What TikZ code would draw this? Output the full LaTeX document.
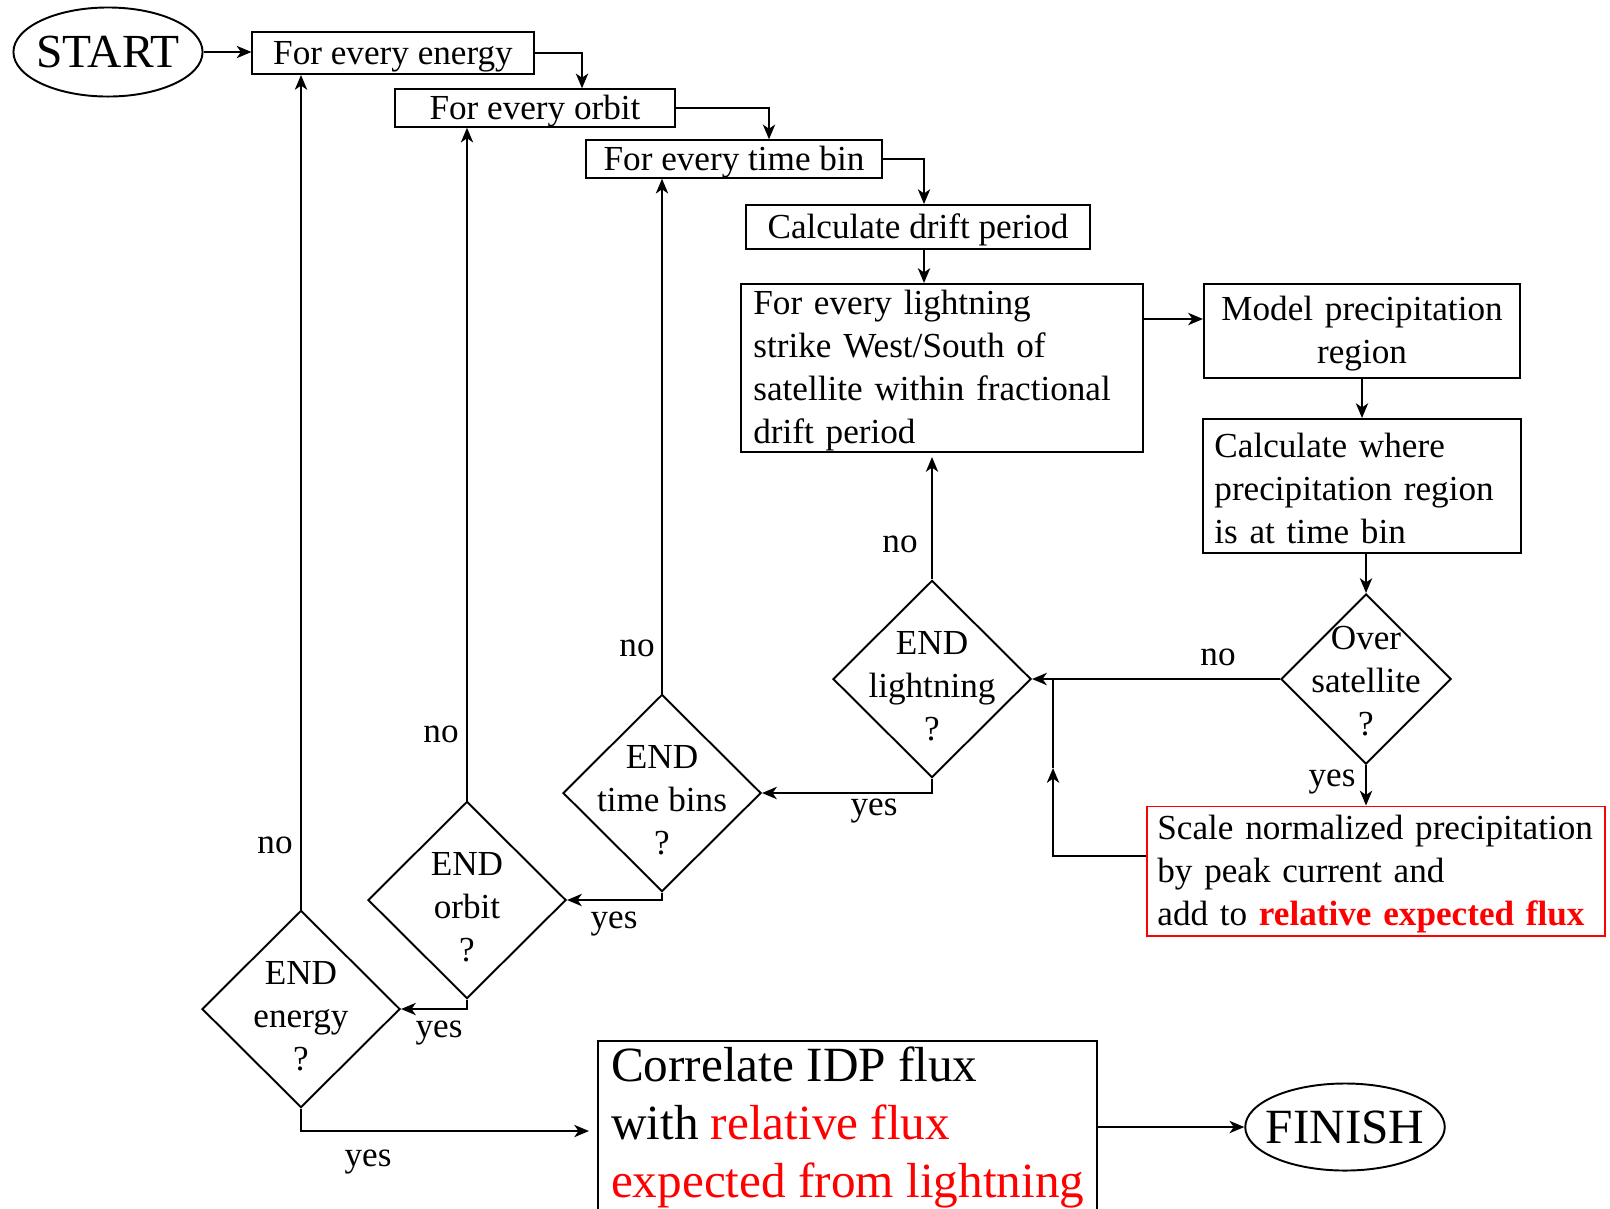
\documentclass[tikz,border=0pt]{standalone}
\usepackage{fontspec}
\setmainfont{Liberation Serif}
\usetikzlibrary{shapes.geometric,arrows.meta,positioning,calc}
\tikzset{
  every node/.style={
    font=\fontsize{10}{12.2}\selectfont
  },
  box/.style 2 args={
    shape=rectangle,
    draw,
    minimum width=#1,
    minimum height=#2,
    inner sep=0pt
  },
  nudge/.style={
    text height=8.5pt
  },
  textbox/.style n args={3}{
    box={#1}{#2},
    nudge,
    text width=#3,
    align=left
  },
  decision/.style 2 args={
    shape=diamond,
    draw,
    minimum width=#1,
    minimum height=#2,
    inner sep=0pt
  },
  ask/.style 2 args={
    label={[align=center,yshift=#1]center:#2}
  },
  terminal/.style={
    shape=ellipse,
    draw,
    inner xsep=-2.5pt,
    inner ysep=0pt
  },
  answer/.style={
    inner sep=0pt
  },
  flow/.style={
    -{Stealth[length=4.2pt,width=3.5pt,inset=1.2pt]}
  }
}

\begin{document}
\begin{tikzpicture}[x=0.01cm,y=-0.01cm,line width=0.55pt]
  \useasboundingbox (0,0) rectangle (1610,1208);

  % loops
  \node [terminal, minimum width=1.89cm, minimum height=0.89cm,
    font=\fontsize{13.5}{16}\selectfont] (start) at (108,52) {START};
  \node [box={2.81cm}{0.42cm}, nudge] (energy) at (393,53) {For every energy};
  \node [box={2.80cm}{0.35cm}, nudge] (orbit) at (535,108) {For every orbit};
  \node [box={2.95cm}{0.37cm}, nudge] (timebin) at (734,159) {For every time bin};
  \node [box={3.44cm}{0.44cm}, nudge] (drift) at (918,227) {Calculate drift period};
  \node [textbox={4.01cm}{1.68cm}{3.77cm}] (strike) at (942,368) {
    For every lightning\\strike West/South of\\satellite within fractional\\drift period};

  % precipitation
  \node [textbox={3.16cm}{0.94cm}{3.16cm}, align=center] (model) at (1362,331) {
    Model precipitation\\region};
  \node [textbox={3.17cm}{1.34cm}{2.95cm}] (where) at (1362,486) {
    Calculate where\\precipitation region\\is at time bin};
  \node [decision={1.70cm}{1.70cm}, ask={-0.5pt}{Over\\satellite\\?}] (over) at (1366,679) {};
  \node [textbox={4.57cm}{1.29cm}{4.37cm}, draw=red] (scale) at (1376,871) {
    Scale normalized precipitation\\by peak current and\\add to
    \textcolor{red}{\bfseries relative expected flux}};

  % decisions
  \node [decision={1.98cm}{1.97cm}, ask={-2pt}{END\\lightning\\?}] (endl) at (932,679) {};
  \node [decision={1.98cm}{1.97cm}, ask={-2pt}{END\\time bins\\?}] (endt) at (662,793) {};
  \node [decision={1.98cm}{1.97cm}, ask={-2pt}{END\\orbit\\?}] (endo) at (467,900) {};
  \node [decision={1.98cm}{1.97cm}, ask={-2pt}{END\\energy\\?}] (ende) at (301,1009) {};

  % result
  \node [box={4.99cm}{1.73cm}, anchor=north west, align=left,
    font=\fontsize{14}{16.6}\selectfont] (correlate) at (597,1040) {
    Correlate IDP flux\\with \textcolor{red}{relative flux}\\
    \textcolor{red}{expected from lightning}};
  \node [terminal, minimum width=1.99cm, minimum height=0.87cm,
    font=\fontsize{14}{16}\selectfont] (finish) at (1345,1127) {FINISH};

  % answers
  \node [answer] (no energy) at (275,845) {no};
  \node [answer] (no orbit) at (441,734) {no};
  \node [answer] (no time) at (637,648) {no};
  \node [answer] (no lightning) at (900,544) {no};
  \node [answer] (no over) at (1218,657) {no};
  \node [answer] (yes over) at (1332,782) {yes};
  \node [answer] (yes lightning) at (874,811) {yes};
  \node [answer] (yes time) at (614,924) {yes};
  \node [answer] (yes orbit) at (439,1033) {yes};
  \node [answer] (yes energy) at (368,1162) {yes};

  % connectors
  \draw [flow] (start.east) -- (start.east -| energy.west);
  \draw [flow] (energy.east) -| ($(orbit.north)+(47,0)$);
  \draw [flow] (orbit.east) -| ($(timebin.north)+(35,0)$);
  \draw [flow] (timebin.east) -| ($(drift.north)+(6,0)$);
  \draw [flow] ($(drift.south)+(6,0)$) coordinate (d) -- (d |- strike.north);
  \draw [flow] ($(strike.east)+(0,-49)$) coordinate (s) -- (s -| model.west);
  \draw [flow] (model.south) -- (where.north);
  \draw [flow] (over.north |- where.south) -- (over.north);
  \draw [flow] (over.south) -- (over.south |- scale.north);
  \draw [flow] (over.west) -- (endl.east);
  \coordinate (join) at ($(endl.east)+(21,0)$);
  \draw [flow] ($(scale.west)+(0,-15)$) -| ($(join)+(0,89)$);
  \draw ($(join)+(0,89)$) -- (join);
  \draw [flow, shorten >=0.04cm] (endl.north) -- (endl.north |- strike.south);
  \draw [flow] (endl.south) |- (endt.east);
  \draw [flow] (endt.north) -- (endt.north |- timebin.south);
  \draw [flow] (endt.south) |- (endo.east);
  \draw [flow] (endo.north) -- (endo.north |- orbit.south);
  \draw [flow] (endo.south) |- (ende.east);
  \draw [flow] (ende.north) -- (ende.north |- energy.south);
  \draw [flow, shorten >=0.08cm] (ende.south) |- ($(correlate.north west)+(0,91)$);
  \draw [flow] (correlate.east |- finish.west) -- (finish.west);
\end{tikzpicture}
\end{document}
